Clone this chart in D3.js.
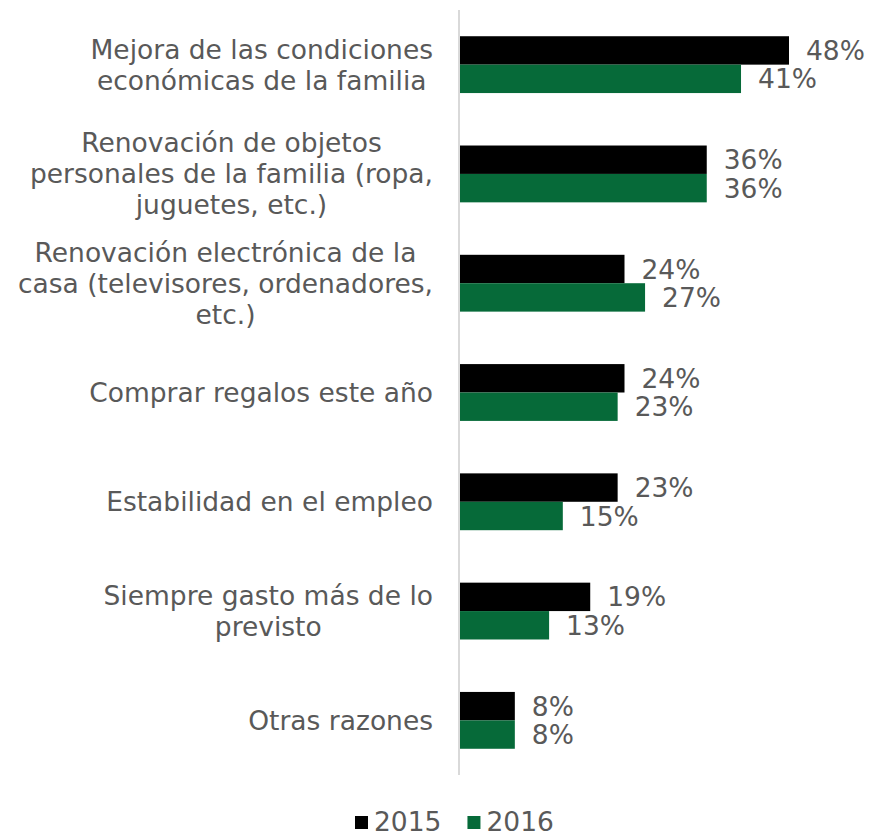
<!DOCTYPE html>
<html>
<head>
<meta charset="utf-8">
<script src="https://cdn.jsdelivr.net/npm/d3@7"></script>
<style>
  body { margin: 0; background: #fff; }
  svg { display: block; }
</style>
</head>
<body>
<svg id="chart" width="871" height="839"></svg>
<script>
// data
const categories = [
	['Mejora de las condiciones', 'económicas de la familia'],
	['Renovación de objetos', 'personales de la familia (ropa,', 'juguetes, etc.)'],
	['Renovación electrónica de la', 'casa (televisores, ordenadores,', 'etc.)'],
	['Comprar regalos este año'],
	['Estabilidad en el empleo'],
	['Siempre gasto más de lo', 'previsto'],
	['Otras razones']
]
const years = ['2015', '2016']
const values2015 = [48, 36, 24, 24, 23, 19, 8]
const values2016 = [41, 36, 27, 23, 15, 13, 8]

const colors = { '2015': '#000000', '2016': '#066a39' }
const textColor = '#595959'
const fontFamily = '"DejaVu Sans", Verdana, sans-serif'
const fontSize = 26.5

const svg = d3.select('#chart')
const axisX = 460

const x = d3.scaleLinear()
	.domain([0, 48])
	.range([axisX, 789])

const ids = categories.map((c, i) => i)
const y = d3.scaleBand()
	.domain(ids)
	.range([10, 775])
	.paddingInner(0.48)
	.paddingOuter(0.24)

const y1 = d3.scaleBand()
	.domain(years)
	.range([0, y.bandwidth()])

const rows = ids.map(i => ({ i, '2015': values2015[i], '2016': values2016[i] }))

// bars
const groups = svg.selectAll('.group')
	.data(rows)
	.enter()
	.append('g')
	.attr('class', 'group')
	.attr('transform', d => `translate(0,${y(d.i)})`)

groups.selectAll('rect')
	.data(d => years.map(yr => ({ yr, v: d[yr] })))
	.enter()
	.append('rect')
	.attr('x', x(0))
	.attr('y', d => y1(d.yr))
	.attr('width', d => x(d.v) - x(0))
	.attr('height', y1.bandwidth())
	.attr('fill', d => colors[d.yr])

// value labels
groups.selectAll('.val')
	.data(d => years.map(yr => ({ yr, v: d[yr] })))
	.enter()
	.append('text')
	.attr('class', 'val')
	.attr('x', d => x(d.v) + 17)
	.attr('y', d => y1(d.yr) + y1.bandwidth() / 2)
	.attr('dy', '0.36em')
	.attr('fill', textColor)
	.attr('font-family', fontFamily)
	.attr('font-size', fontSize)
	.text(d => d.v + '%')

// axis line
svg.append('line')
	.attr('x1', axisX - 1).attr('x2', axisX - 1)
	.attr('y1', 10).attr('y2', 775)
	.attr('stroke', '#d9d9d9')
	.attr('stroke-width', 2)

// category labels: lines centered, block right-aligned
const lineH = 31
const rightEdge = 433
categories.forEach((lines, i) => {
	const g = svg.append('g')
	const cy = y(i) + y.bandwidth() / 2
	const texts = lines.map((ln, k) => g.append('text')
		.attr('y', cy + (k - (lines.length - 1) / 2) * lineH)
		.attr('dy', '0.36em')
		.attr('text-anchor', 'middle')
		.attr('fill', textColor)
		.attr('font-family', fontFamily)
		.attr('font-size', fontSize)
		.text(ln))
	const maxW = d3.max(texts, t => t.node().getComputedTextLength())
	texts.forEach(t => t.attr('x', rightEdge - maxW / 2))
})

// legend
const legend = svg.append('g').attr('transform', 'translate(355,821)')
let lx = 0
years.forEach(yr => {
	legend.append('rect')
		.attr('x', lx).attr('y', -5)
		.attr('width', 13).attr('height', 13)
		.attr('fill', colors[yr])
	const t = legend.append('text')
		.attr('x', lx + 19)
		.attr('y', 0)
		.attr('dy', '0.36em')
		.attr('fill', textColor)
		.attr('font-family', fontFamily)
		.attr('font-size', fontSize)
		.text(yr)
	lx += 19 + t.node().getComputedTextLength() + 26
})
</script>
</body>
</html>
